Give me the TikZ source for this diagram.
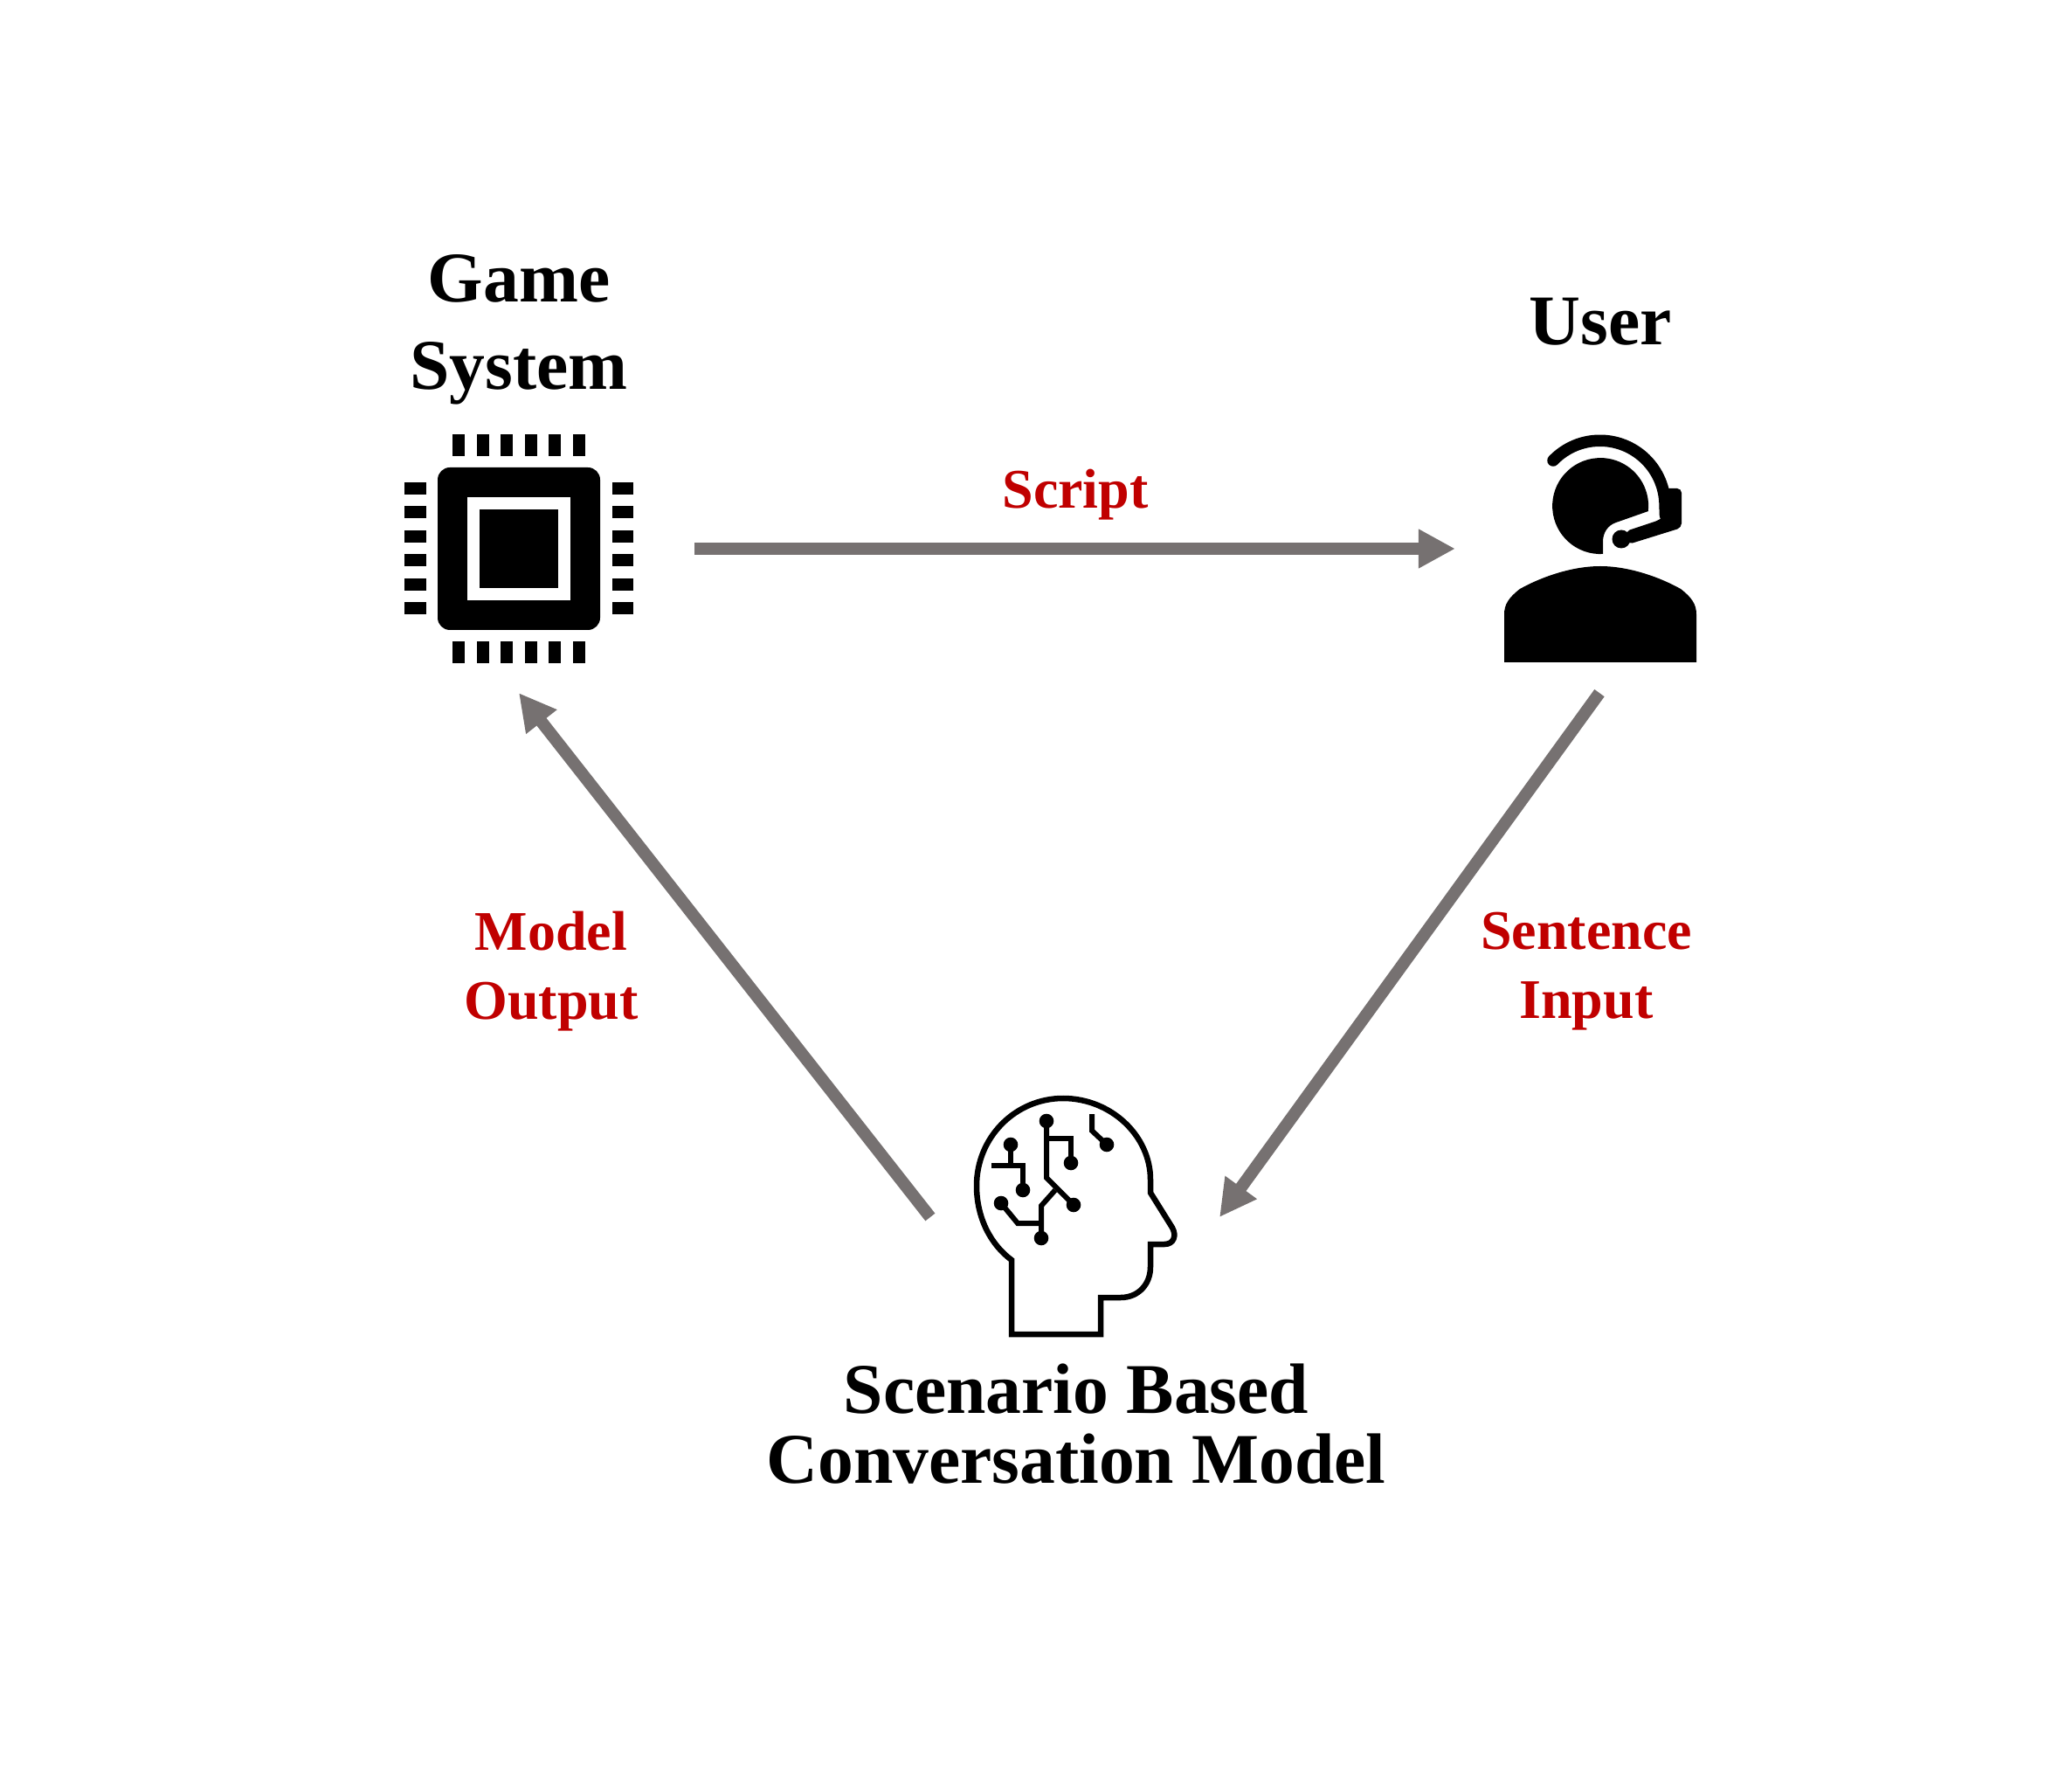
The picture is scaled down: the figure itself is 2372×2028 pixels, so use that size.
\documentclass[tikz,border=0pt]{standalone}
\usepackage{xcolor}
\usepackage{fontspec}
\setmainfont{Liberation Serif}
\usetikzlibrary{arrows.meta}
\definecolor{arrowgray}{HTML}{767171}
\definecolor{labelred}{HTML}{C00000}
\tikzstyle{iconbox} = [inner sep=0pt, outer sep=0pt]
\tikzstyle{title} = [inner sep=0pt, align=center, font=\fontsize{23.2}{22.7}\selectfont\bfseries]
\tikzstyle{flowlabel} = [inner sep=0pt, align=center, text=labelred, font=\fontsize{18.2}{22.4}\selectfont\bfseries]
\tikzstyle{flow} = [arrowgray, line width=0.14cm, -{Triangle[length=0.42cm, width=0.42cm]}]
\tikzstyle{wire} = [line width=0.06cm, line join=miter]

\begin{document}
\begin{tikzpicture}[x=0.01cm, y=-0.01cm]
	\useasboundingbox (0,0) rectangle (2372,2028);

	\node[iconbox, minimum width=4.02cm, minimum height=3.3cm] (chip) at (594,628) {};
	\node[iconbox, minimum width=3.3cm, minimum height=3.3cm] (headset) at (1831,628) {};
	\node[iconbox, minimum width=3.31cm, minimum height=1.2cm] (brain) at (1230.5,1393) {};

	\fill[rounded corners=0.14cm] (501,535) rectangle (687,721);
	\fill[white] (535,569) rectangle (653,687);
	\fill (549,583) rectangle (639,673);
	\foreach \n in {0,...,5} {
		\fill (518+27.5*\n,497) rectangle +(14,25);
		\fill (518+27.5*\n,734) rectangle +(14,25);
		\fill (463,552+27.5*\n) rectangle +(25,14);
		\fill (701,552+27.5*\n) rectangle +(24,14);
	}

	\fill (1887,585) -- (1850,598) .. controls (1841,601) and (1835,609) .. (1835,620) -- (1835,634)
		arc[start angle=87, end angle=366, radius=55] -- cycle;
	\draw[line width=0.135cm, line cap=round] (1778,527) arc[start angle=-136, end angle=0, radius=74.5] -- (1906.5,590);
	\fill[rounded corners=0.05cm] (1905,559) -- (1925,559) -- (1925,604) -- (1864,623) -- (1861,608) -- (1900,595) -- (1905,590) -- cycle;
	\fill (1856,617) circle[radius=10.5];
	\fill (1722,758) -- (1722,703) .. controls (1722,692) and (1727,684) .. (1740,674)
		.. controls (1765,660) and (1800,648) .. (1832,648)
		.. controls (1864,648) and (1899,660) .. (1924,674)
		.. controls (1937,684) and (1942,692) .. (1942,703) -- (1942,758) -- cycle;

	\draw[line width=0.065cm, line join=miter] (1158,1527) -- (1158,1442)
		.. controls (1135,1425) and (1118,1395) .. (1118,1357)
		.. controls (1118,1302) and (1162,1257) .. (1217,1257)
		.. controls (1272,1257) and (1317,1300) .. (1317,1350)
		-- (1317,1365) -- (1342,1405)
		.. controls (1347,1414) and (1344,1424) .. (1333,1424)
		-- (1317,1424) -- (1317,1450)
		.. controls (1317,1470) and (1303,1485) .. (1283,1485)
		-- (1260,1485) -- (1260,1527) -- cycle;

	\draw[wire] (1198,1283) -- (1198,1348) -- (1229,1379);
	\draw[wire] (1198,1303) -- (1226,1303) -- (1226,1331);
	\draw[wire] (1208,1362) -- (1192,1380) -- (1192,1417);
	\draw[wire] (1146,1377) -- (1165,1400) -- (1192,1400);
	\draw[wire] (1157,1310) -- (1157,1334);
	\draw[wire] (1135,1334) -- (1171,1334) -- (1171,1362);
	\draw[wire] (1250,1275) -- (1250,1294) -- (1267,1310);
	\foreach \p in {(1198,1283),(1229,1379),(1226,1331),(1192,1417),(1146,1377),(1157,1310),(1171,1362),(1267,1310)}
		\fill \p circle[radius=8.3];

	\node[title] (gamelabel) at (594,377) {Game\\[5.7pt]System};
	\node[title] (userlabel) at (1832,368) {User};
	\node[title] (brainlabel) at (1232,1630) {Scenario Based\\Conversation Model};

	\node[flowlabel] (scriptlabel) at (1231,566) {Script};
	\node[flowlabel] (outputlabel) at (631,1111.5) {Model\\Output};
	\node[flowlabel] (inputlabel) at (1816,1112) {Sentence\\Input};

	\draw[flow] (chip.east) -- (headset.west);
	\draw[flow] (headset.south) -- (brain.east);
	\draw[flow] (brain.west) -- (chip.south);
\end{tikzpicture}
\end{document}
